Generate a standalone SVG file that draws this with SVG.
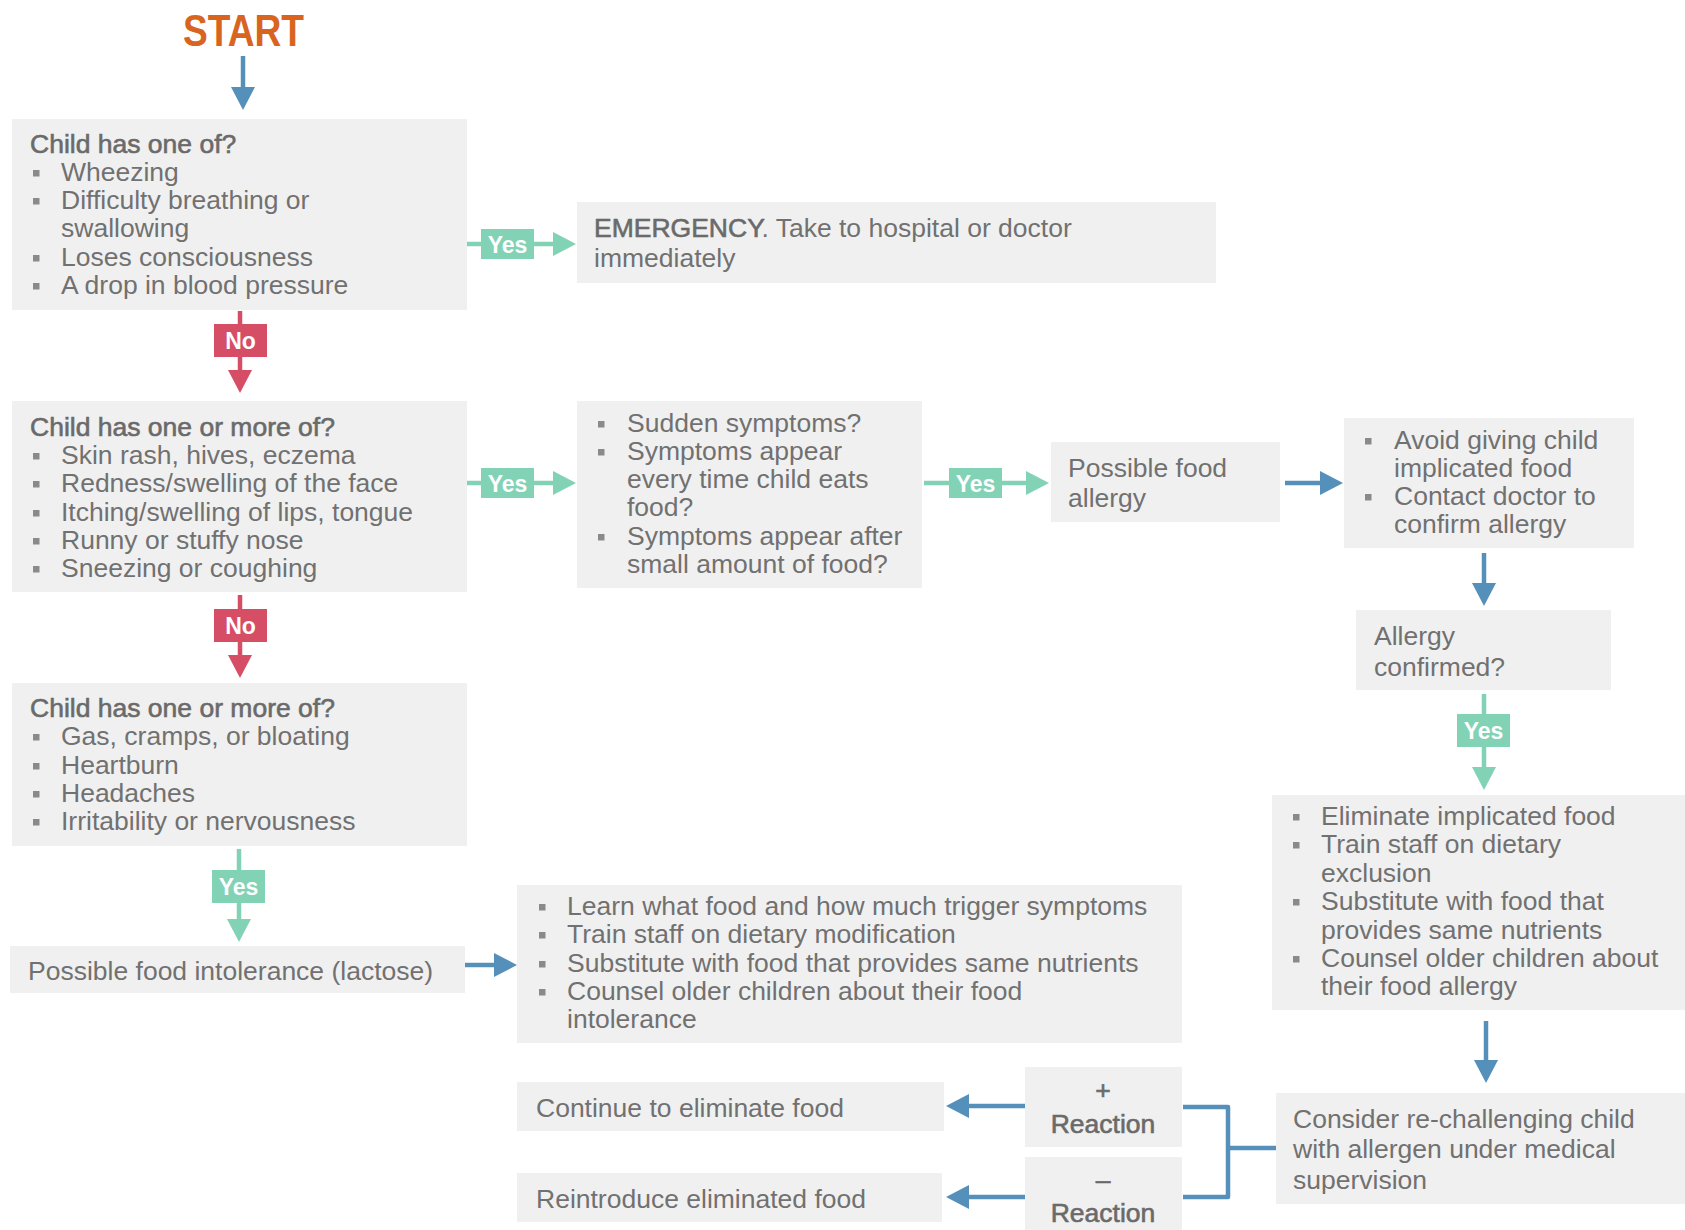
<svg xmlns="http://www.w3.org/2000/svg" width="1685" height="1230" viewBox="0 0 1685 1230">
  <defs>
    <style>
      .box { fill: #f0f0f0; }
      .t { font-family: "Liberation Sans", Arial, sans-serif; font-size: 26.5px; fill: #717171; }
      .h { stroke: #6a6a6a; stroke-width: 0.6px; fill: #6a6a6a; }
      .bl { fill: #8a8a8a; }
      .lbl { font-family: "Liberation Sans", Arial, sans-serif; font-weight: bold; font-size: 23px; fill: #ffffff; text-anchor: middle; }
      .c { text-anchor: middle; }
      .blue { stroke: #5590bb; stroke-width: 4.5; fill: none; }
      .green { stroke: #82d2b6; stroke-width: 4.5; fill: none; }
      .red { stroke: #d64d66; stroke-width: 4.5; fill: none; }
      .gfill { fill: #82d2b6; }
      .rfill { fill: #d64d66; }
      .start { font-family: "Liberation Sans", Arial, sans-serif; font-weight: bold; font-size: 44px; fill: #d9641f; }
    </style>
    <marker id="ahBlue" markerUnits="userSpaceOnUse" viewBox="0 0 23 24" refX="0" refY="12" markerWidth="23" markerHeight="24" orient="auto">
      <path d="M0,0 L23,12 L0,24 Z" fill="#5590bb"/>
    </marker>
    <marker id="ahGreen" markerUnits="userSpaceOnUse" viewBox="0 0 23 24" refX="0" refY="12" markerWidth="23" markerHeight="24" orient="auto">
      <path d="M0,0 L23,12 L0,24 Z" fill="#82d2b6"/>
    </marker>
    <marker id="ahRed" markerUnits="userSpaceOnUse" viewBox="0 0 23 24" refX="0" refY="12" markerWidth="23" markerHeight="24" orient="auto">
      <path d="M0,0 L23,12 L0,24 Z" fill="#d64d66"/>
    </marker>
  </defs>

  <rect width="1685" height="1230" fill="#ffffff"/>

  <!-- start marker -->
  <g id="start">
    <text class="start" x="183" y="46" textLength="121" lengthAdjust="spacingAndGlyphs">START</text>
  </g>

  <!-- decision: severe symptoms -->
  <g id="q-severe">
    <rect class="box" x="12" y="119" width="455" height="191"/>
    <text class="t h" x="30" y="153">Child has one of?</text>
    <rect class="bl" x="33" y="170" width="6.5" height="6.5"/>
    <text class="t" x="61" y="181">Wheezing</text>
    <rect class="bl" x="33" y="198" width="6.5" height="6.5"/>
    <text class="t" x="61" y="209">Difficulty breathing or</text>
    <text class="t" x="61" y="237">swallowing</text>
    <rect class="bl" x="33" y="255" width="6.5" height="6.5"/>
    <text class="t" x="61" y="266">Loses consciousness</text>
    <rect class="bl" x="33" y="283" width="6.5" height="6.5"/>
    <text class="t" x="61" y="294">A drop in blood pressure</text>
  </g>

  <g id="emergency">
    <rect class="box" x="577" y="202" width="639" height="81"/>
    <text class="t" x="594" y="237"><tspan class="h">EMERGENCY</tspan>. Take to hospital or doctor</text>
    <text class="t" x="594" y="267">immediately</text>
  </g>

  <!-- decision: allergy-type symptoms -->
  <g id="q-allergy">
    <rect class="box" x="12" y="401" width="455" height="191"/>
    <text class="t h" x="30" y="436">Child has one or more of?</text>
    <rect class="bl" x="33" y="453" width="6.5" height="6.5"/>
    <text class="t" x="61" y="464">Skin rash, hives, eczema</text>
    <rect class="bl" x="33" y="481" width="6.5" height="6.5"/>
    <text class="t" x="61" y="492">Redness/swelling of the face</text>
    <rect class="bl" x="33" y="510" width="6.5" height="6.5"/>
    <text class="t" x="61" y="521">Itching/swelling of lips, tongue</text>
    <rect class="bl" x="33" y="538" width="6.5" height="6.5"/>
    <text class="t" x="61" y="549">Runny or stuffy nose</text>
    <rect class="bl" x="33" y="566" width="6.5" height="6.5"/>
    <text class="t" x="61" y="577">Sneezing or coughing</text>
  </g>

  <g id="q-onset">
    <rect class="box" x="577" y="401" width="345" height="187"/>
    <rect class="bl" x="598" y="421" width="6.5" height="6.5"/>
    <text class="t" x="627" y="432">Sudden symptoms?</text>
    <rect class="bl" x="598" y="449" width="6.5" height="6.5"/>
    <text class="t" x="627" y="460">Symptoms appear</text>
    <text class="t" x="627" y="488">every time child eats</text>
    <text class="t" x="627" y="516">food?</text>
    <rect class="bl" x="598" y="534" width="6.5" height="6.5"/>
    <text class="t" x="627" y="545">Symptoms appear after</text>
    <text class="t" x="627" y="573">small amount of food?</text>
  </g>

  <g id="food-allergy">
    <rect class="box" x="1051" y="442" width="229" height="80"/>
    <text class="t" x="1068" y="477">Possible food</text>
    <text class="t" x="1068" y="507">allergy</text>
  </g>

  <g id="avoid">
    <rect class="box" x="1344" y="418" width="290" height="130"/>
    <rect class="bl" x="1365" y="438" width="6.5" height="6.5"/>
    <text class="t" x="1394" y="449">Avoid giving child</text>
    <text class="t" x="1394" y="477">implicated food</text>
    <rect class="bl" x="1365" y="494" width="6.5" height="6.5"/>
    <text class="t" x="1394" y="505">Contact doctor to</text>
    <text class="t" x="1394" y="533">confirm allergy</text>
  </g>

  <g id="q-confirmed">
    <rect class="box" x="1356" y="610" width="255" height="80"/>
    <text class="t" x="1374" y="645">Allergy</text>
    <text class="t" x="1374" y="676">confirmed?</text>
  </g>

  <g id="eliminate">
    <rect class="box" x="1272" y="795" width="413" height="215"/>
    <rect class="bl" x="1293" y="814" width="6.5" height="6.5"/>
    <text class="t" x="1321" y="825">Eliminate implicated food</text>
    <rect class="bl" x="1293" y="842" width="6.5" height="6.5"/>
    <text class="t" x="1321" y="853">Train staff on dietary</text>
    <text class="t" x="1321" y="882">exclusion</text>
    <rect class="bl" x="1293" y="899" width="6.5" height="6.5"/>
    <text class="t" x="1321" y="910">Substitute with food that</text>
    <text class="t" x="1321" y="939">provides same nutrients</text>
    <rect class="bl" x="1293" y="956" width="6.5" height="6.5"/>
    <text class="t" x="1321" y="967">Counsel older children about</text>
    <text class="t" x="1321" y="995">their food allergy</text>
  </g>

  <!-- decision: intolerance-type symptoms -->
  <g id="q-intolerance">
    <rect class="box" x="12" y="683" width="455" height="163"/>
    <text class="t h" x="30" y="717">Child has one or more of?</text>
    <rect class="bl" x="33" y="734" width="6.5" height="6.5"/>
    <text class="t" x="61" y="745">Gas, cramps, or bloating</text>
    <rect class="bl" x="33" y="763" width="6.5" height="6.5"/>
    <text class="t" x="61" y="774">Heartburn</text>
    <rect class="bl" x="33" y="791" width="6.5" height="6.5"/>
    <text class="t" x="61" y="802">Headaches</text>
    <rect class="bl" x="33" y="819" width="6.5" height="6.5"/>
    <text class="t" x="61" y="830">Irritability or nervousness</text>
  </g>

  <g id="intolerance">
    <rect class="box" x="10" y="946" width="455" height="47"/>
    <text class="t" x="28" y="980">Possible food intolerance (lactose)</text>
  </g>

  <g id="learn">
    <rect class="box" x="517" y="885" width="665" height="158"/>
    <rect class="bl" x="539" y="904" width="6.5" height="6.5"/>
    <text class="t" x="567" y="915">Learn what food and how much trigger symptoms</text>
    <rect class="bl" x="539" y="932" width="6.5" height="6.5"/>
    <text class="t" x="567" y="943">Train staff on dietary modification</text>
    <rect class="bl" x="539" y="961" width="6.5" height="6.5"/>
    <text class="t" x="567" y="972">Substitute with food that provides same nutrients</text>
    <rect class="bl" x="539" y="989" width="6.5" height="6.5"/>
    <text class="t" x="567" y="1000">Counsel older children about their food</text>
    <text class="t" x="567" y="1028">intolerance</text>
  </g>

  <g id="continue">
    <rect class="box" x="517" y="1082" width="427" height="49"/>
    <text class="t" x="536" y="1117">Continue to eliminate food</text>
  </g>

  <g id="reintroduce">
    <rect class="box" x="517" y="1173" width="425" height="49"/>
    <text class="t" x="536" y="1208">Reintroduce eliminated food</text>
  </g>

  <g id="reaction-pos">
    <rect class="box" x="1025" y="1067" width="157" height="80"/>
    <text class="t h c" x="1103" y="1099">+</text>
    <text class="t h c" x="1103" y="1133">Reaction</text>
  </g>

  <g id="reaction-neg">
    <rect class="box" x="1025" y="1157" width="157" height="73"/>
    <text class="t h c" x="1103" y="1189">–</text>
    <text class="t h c" x="1103" y="1222">Reaction</text>
  </g>

  <g id="rechallenge">
    <rect class="box" x="1276" y="1093" width="409" height="111"/>
    <text class="t" x="1293" y="1128">Consider re-challenging child</text>
    <text class="t" x="1293" y="1158">with allergen under medical</text>
    <text class="t" x="1293" y="1189">supervision</text>
  </g>

  <!-- connectors -->
  <g id="connectors">
    <path class="blue" d="M243,56 V87" marker-end="url(#ahBlue)"/>

    <path class="green" d="M467,244 H553" marker-end="url(#ahGreen)"/>
    <rect class="gfill" x="481" y="229" width="53" height="30"/>
    <text class="lbl" x="507.5" y="252.5">Yes</text>

    <path class="red" d="M240,311 V370" marker-end="url(#ahRed)"/>
    <rect class="rfill" x="214" y="324" width="53" height="33"/>
    <text class="lbl" x="240.5" y="349">No</text>

    <path class="green" d="M467,483 H553" marker-end="url(#ahGreen)"/>
    <rect class="gfill" x="481" y="468" width="53" height="30"/>
    <text class="lbl" x="507.5" y="491.5">Yes</text>

    <path class="green" d="M924,483 H1026" marker-end="url(#ahGreen)"/>
    <rect class="gfill" x="949" y="468" width="53" height="30"/>
    <text class="lbl" x="975.5" y="491.5">Yes</text>

    <path class="blue" d="M1285,483 H1320" marker-end="url(#ahBlue)"/>

    <path class="blue" d="M1484,553 V583" marker-end="url(#ahBlue)"/>

    <path class="green" d="M1484,694 V767" marker-end="url(#ahGreen)"/>
    <rect class="gfill" x="1457" y="714" width="53" height="33"/>
    <text class="lbl" x="1483.5" y="739">Yes</text>

    <path class="red" d="M240,595 V655" marker-end="url(#ahRed)"/>
    <rect class="rfill" x="214" y="609" width="53" height="33"/>
    <text class="lbl" x="240.5" y="634">No</text>

    <path class="green" d="M239,849 V919" marker-end="url(#ahGreen)"/>
    <rect class="gfill" x="212" y="870" width="53" height="33"/>
    <text class="lbl" x="238.5" y="895">Yes</text>

    <path class="blue" d="M465,965 H494" marker-end="url(#ahBlue)"/>

    <path class="blue" d="M1486,1021 V1060" marker-end="url(#ahBlue)"/>

    <path class="blue" d="M1025,1106 H969" marker-end="url(#ahBlue)"/>
    <path class="blue" d="M1025,1197 H969" marker-end="url(#ahBlue)"/>

    <path class="blue" d="M1183,1107 H1228 V1197 H1183 M1228,1148 H1276" stroke-linejoin="round"/>
  </g>
</svg>
